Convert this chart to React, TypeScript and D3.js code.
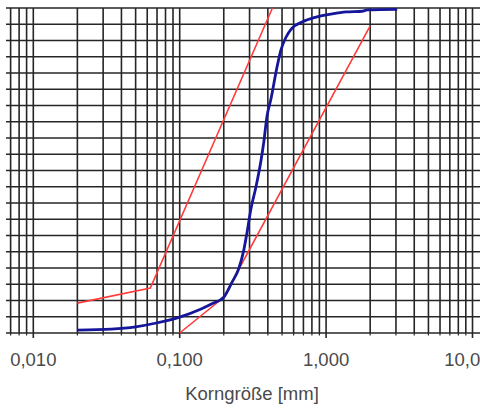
import React from "react";
import * as d3 from "d3";

const majorTicks = [0.01, 0.1, 1, 10];
const tickLabels = ["0,010", "0,100", "1,000", "10,000"];
const percentLines = d3.range(0, 101, 5);
const xTitle = "Korngröße [mm]";

const blueSize = [0.02, 0.034, 0.05, 0.068, 0.1, 0.14, 0.17, 0.2, 0.227, 0.254, 0.274, 0.288, 0.306, 0.332, 0.359, 0.376, 0.394, 0.42, 0.462, 0.491, 0.532, 0.585, 0.685, 0.854, 1.1, 1.37, 1.76, 1.91, 3.06];
const bluePass = [0.9, 1.2, 1.9, 3.0, 4.9, 7.4, 9.2, 11, 15.5, 20, 25.5, 30.8, 38, 45, 53, 59, 66.5, 72, 81.8, 87, 91, 93.8, 95.7, 97.2, 98.2, 98.8, 99.0, 99.4, 99.6];

const redLeftSize = [0.02, 0.063, 0.43];
const redLeftPass = [9.2, 13.8, 100];
const redRightSize = [0.1, 0.2, 2.0];
const redRightPass = [0, 11, 94.5];

const W = 480;
const H = 410;

export default function App() {
  const x = d3.scaleLog().domain([0.01, 10]).range([33.3, 472.5]);
  const y = d3.scaleLinear().domain([0, 100]).range([333, 8]);
  const left = 6;
  const right = W;

  const gridVals: number[] = [];
  [0.001, 0.01, 0.1, 1, 10].forEach((d) => {
    for (let k = 1; k <= 9; k++) {
      const v = d * k;
      const px = x(v);
      if (px >= left + 2 && px <= right + 2) gridVals.push(v);
    }
  });
  const minorVals = gridVals.filter((v) => !majorTicks.some((m) => Math.abs(m - v) / m < 1e-6));

  const blueGen = d3
    .line<[number, number]>()
    .x((d) => x(d[0]))
    .y((d) => y(d[1]))
    .curve(d3.curveMonotoneX);
  const blueLine = blueGen(blueSize.map((s, i) => [s, bluePass[i]] as [number, number]));
  const lin = d3
    .line<[number, number]>()
    .x((d) => x(d[0]))
    .y((d) => y(d[1]));
  const redL = lin(redLeftSize.map((s, i) => [s, redLeftPass[i]] as [number, number]));
  const redR = lin(redRightSize.map((s, i) => [s, redRightPass[i]] as [number, number]));

  const gridColor = "#262626";
  return (
    <svg width={W} height={H} style={{ position: "absolute", left: 0, top: 0, background: "#fff" }}>
      <rect x={0} y={0} width={W} height={H} fill="#fff" />
      <g>
        {percentLines.map((p) => (
          <line key={"h" + p} x1={left} x2={right} y1={y(p)} y2={y(p)} stroke={gridColor} strokeWidth={1.6} />
        ))}
        {gridVals.map((v, i) => (
          <line key={"v" + i} x1={x(v)} x2={x(v)} y1={y(100)} y2={y(0)} stroke={gridColor} strokeWidth={1.6} />
        ))}
        {minorVals.map((v, i) => (
          <line key={"mt" + i} x1={x(v)} x2={x(v)} y1={y(0)} y2={y(0) + 2.5} stroke={gridColor} strokeWidth={1.2} />
        ))}
        {majorTicks.map((v, i) => (
          <line key={"t" + i} x1={x(v)} x2={x(v)} y1={y(0)} y2={y(0) + 5} stroke={gridColor} strokeWidth={1.6} />
        ))}
      </g>
      <path d={redL || ""} fill="none" stroke="#ff3b3b" strokeWidth={1.6} />
      <path d={redR || ""} fill="none" stroke="#ff3b3b" strokeWidth={1.6} />
      <path d={blueLine || ""} fill="none" stroke="#16169a" strokeWidth={2.8} strokeLinejoin="round" />
      <g fontFamily="'Liberation Sans', Arial, sans-serif" fill="#4a4a4a">
        {majorTicks.map((v, i) => (
          <text key={"l" + i} x={x(v)} y={366} fontSize={18.5} textAnchor="middle">
            {tickLabels[i]}
          </text>
        ))}
        <text x={252} y={400} fontSize={18.5} textAnchor="middle">
          {xTitle}
        </text>
      </g>
    </svg>
  );
}
